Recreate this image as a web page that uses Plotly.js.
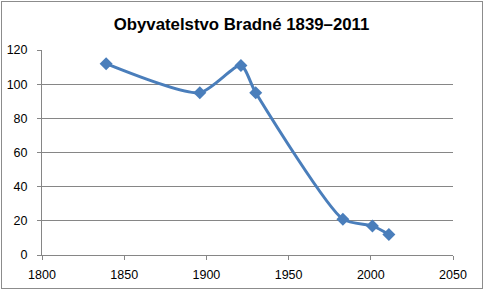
<!DOCTYPE html>
<html>
<head>
<meta charset="utf-8">
<script src="https://cdn.plot.ly/plotly-3.0.1.min.js"></script>
<style>
html,body{margin:0;padding:0;background:#fff;}
#wrap{position:absolute;left:1px;top:1px;width:480px;height:286px;border:1px solid #8c8c8c;box-sizing:content-box;}
#chart{position:absolute;left:0;top:0;width:483px;height:291px;}
</style>
</head>
<body>
<div id="chart"></div>
<div id="wrap" style="pointer-events:none"></div>
<script>
const years = [1839, 1896, 1921, 1930, 1983, 2001, 2011];
const population = [112, 95, 111, 95, 21, 17, 12];
const xTicks = [1800, 1850, 1900, 1950, 2000, 2050];
const yTicks = [0, 20, 40, 60, 80, 100, 120];
const titleText = 'Obyvatelstvo Bradné 1839–2011';

const trace = {
  x: years, y: population, type: 'scatter', mode: 'lines+markers',
  line: {color: '#4a7ebb', width: 3, shape: 'spline', smoothing: 0.65},
  marker: {symbol: 'diamond', size: 10, color: '#4a7ebb'},
  hoverinfo: 'none'
};
const tickFont = {family: 'Liberation Sans, Arial, sans-serif', size: 12.5, color: '#000'};
const layout = {
  width: 483, height: 291,
  margin: {l: 42, r: 30, t: 50, b: 36},
  paper_bgcolor: '#fff', plot_bgcolor: '#fff',
  showlegend: false,
  title: {text: '<b>' + titleText + '</b>', x: 0.5, xanchor: 'center', y: 0.918, yanchor: 'middle',
          font: {family: 'Liberation Sans, Arial, sans-serif', size: 16.8, color: '#000'}},
  xaxis: {range: [1800, 2050], tickvals: xTicks, ticktext: xTicks.map(String),
          showgrid: false, zeroline: false, showline: true, linecolor: '#868686', linewidth: 1,
          ticks: 'outside', ticklen: 4, tickcolor: '#868686', tickfont: tickFont, fixedrange: true,
          ticklabelstandoff: 4},
  yaxis: {range: [0, 120], tickvals: yTicks, ticktext: yTicks.map(String),
          showgrid: true, gridcolor: '#868686', gridwidth: 1, zeroline: false,
          showline: true, linecolor: '#868686', linewidth: 1,
          ticks: 'outside', ticklen: 4, tickcolor: '#868686', tickfont: tickFont, fixedrange: true,
          ticklabelstandoff: 7}
};
Plotly.newPlot('chart', [trace], layout, {staticPlot: true, displayModeBar: false});
</script>
</body>
</html>
